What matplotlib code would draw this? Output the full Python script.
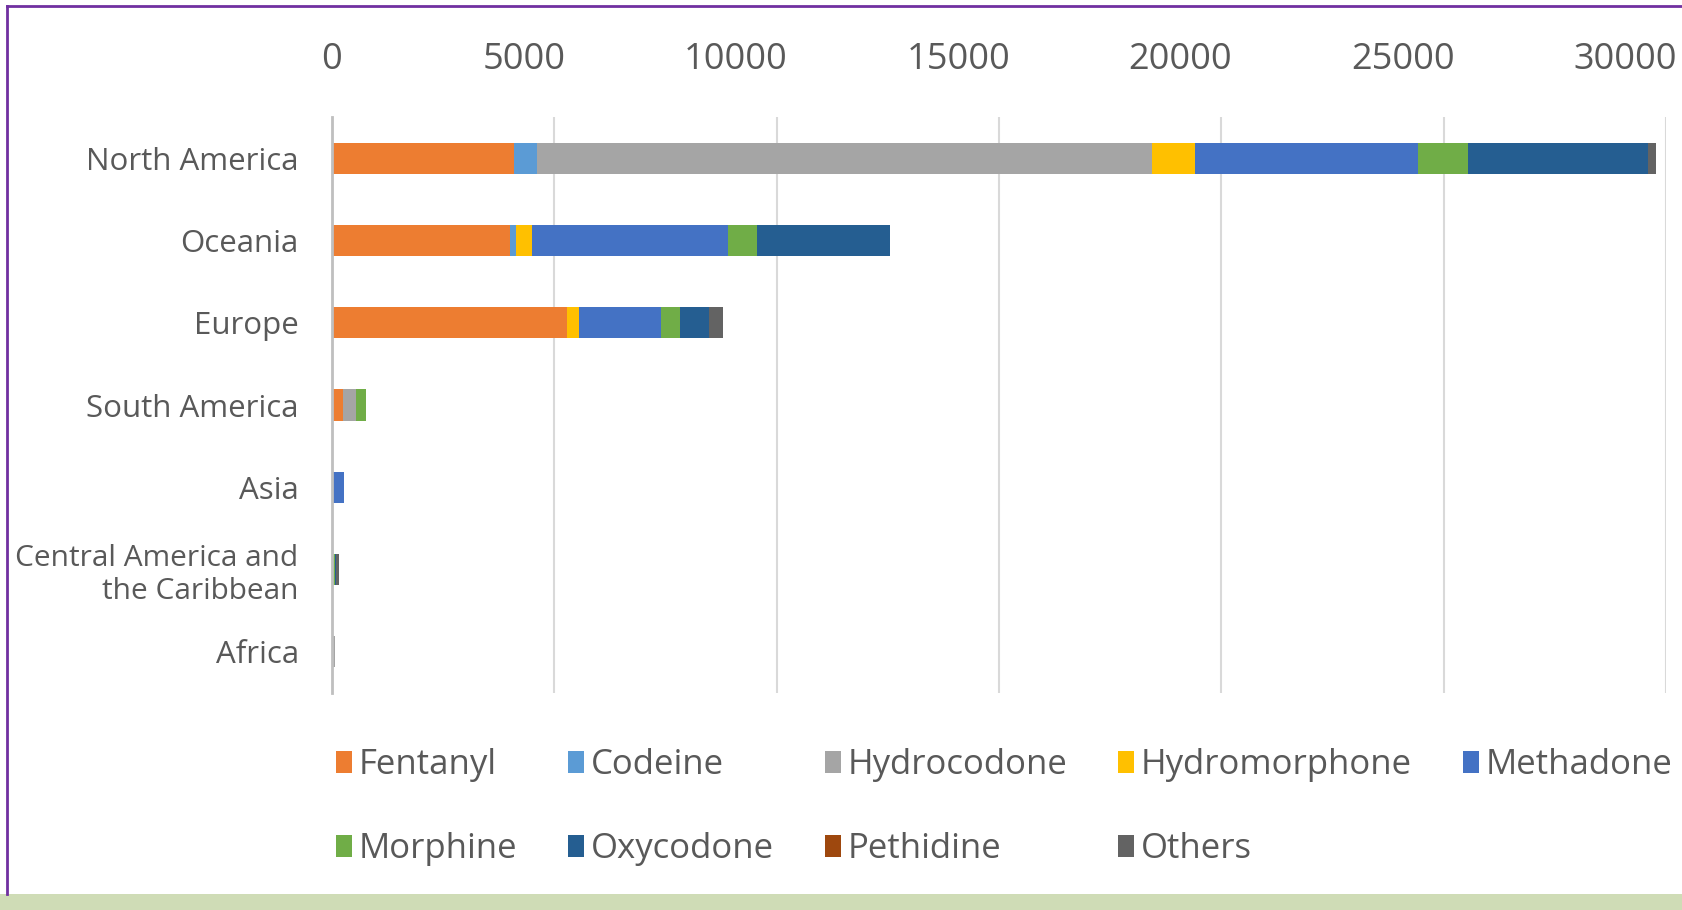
import matplotlib
matplotlib.use("Agg")
import matplotlib.pyplot as plt
from matplotlib.patches import Rectangle
from matplotlib.transforms import ScaledTranslation
import numpy as np

regions = ["North America", "Oceania", "Europe", "South America", "Asia",
           "Central America and\nthe Caribbean", "Africa"]
drugs = ["Fentanyl", "Codeine", "Hydrocodone", "Hydromorphone", "Methadone",
         "Morphine", "Oxycodone", "Pethidine", "Others"]
colors = ["#ED7D31", "#5B9BD5", "#A5A5A5", "#FFC000", "#4472C4",
          "#70AD47", "#255E91", "#9E480E", "#636363"]

fentanyl      = [4100, 4000, 5280, 240,   0,  0,  0]
codeine       = [ 520,  130,    0,   0,   0,  0,  0]
hydrocodone   = [13830,   0,    0, 300,   0,  0, 70]
hydromorphone = [ 950,  360,  270,   0,   0,  0,  0]
methadone     = [5020, 4420, 1860,   0, 280,  0,  0]
morphine      = [1120,  645,  425, 230,   0, 60,  0]
oxycodone     = [4050, 3000,  645,   0,   0, 30,  0]
pethidine     = [   0,    0,    0,   0,   0,  0,  0]
others        = [ 190,    0,  320,   0,   0, 60,  0]

series = [fentanyl, codeine, hydrocodone, hydromorphone, methadone,
          morphine, oxycodone, pethidine, others]
xticks = [0, 5000, 10000, 15000, 20000, 25000, 30000]

W, H = 1683, 910
fig = plt.figure(figsize=(W / 100, H / 100), dpi=100)
fig.patch.set_facecolor("white")
plt.rcParams['font.family'] = ['Open Sans', 'DejaVu Sans']

ax = fig.add_axes([332 / W, 1 - 693 / H, (1666 - 332) / W, (693 - 117) / H])
y = np.arange(len(regions))
left = np.zeros(len(regions))
handles = []
for name, vals, c in zip(drugs, series, colors):
    v = np.array(vals, dtype=float)
    b = ax.barh(y, v, left=left, height=0.38, color=c, label=name, linewidth=0)
    handles.append(b)
    left += v

ax.set_ylim(len(regions) - 0.5, -0.5)
ax.set_xlim(0, 30000)
ax.set_xticks(xticks)
ax.set_xticklabels([str(t) for t in xticks])
ax.xaxis.tick_top()
ax.tick_params(axis='x', length=0, pad=28, labelsize=26, labelcolor="#595959")
offset = ScaledTranslation(0.11, 0, fig.dpi_scale_trans)
for i, lab in enumerate(ax.get_xticklabels()):
    if i == 0:
        continue
    lab.set_horizontalalignment('right')
    lab.set_transform(lab.get_transform() + offset)
ax.set_yticks(y)
ax.set_yticklabels(regions, linespacing=1.2)
ax.tick_params(axis='y', length=0, pad=24, labelsize=22.5, labelcolor="#595959")
for lab in ax.get_yticklabels():
    if "\n" in lab.get_text():
        lab.set_fontsize(21.5)
for s in ["top", "right", "bottom"]:
    ax.spines[s].set_visible(False)
ax.spines["left"].set_color("#bfbfbf")
ax.spines["left"].set_linewidth(2)
ax.grid(axis='x', color="#d9d9d9", linewidth=1.5)
ax.set_axisbelow(True)

order = [0, 5, 1, 6, 2, 7, 3, 8, 4]
fig.legend([handles[i] for i in order], [drugs[i] for i in order],
           loc='upper left', bbox_to_anchor=(336 / W, 1 - 748 / H),
           ncol=5, frameon=False, fontsize=25, handlelength=0.45,
           handleheight=0.6, handletextpad=0.2, columnspacing=1.47,
           labelspacing=1.45, borderpad=0, borderaxespad=0,
           labelcolor="#595959")

# purple frame and green bottom band
fig.add_artist(Rectangle((0, 0), 1, 16 / H, transform=fig.transFigure,
                         facecolor="#cfdcb6", edgecolor="none", zorder=0))
fig.add_artist(plt.Line2D([7.5 / W, 7.5 / W], [16 / H, 1 - 5.5 / H],
                          transform=fig.transFigure, color="#7030A0", linewidth=2))
fig.add_artist(plt.Line2D([7.5 / W, 1], [1 - 5.5 / H, 1 - 5.5 / H],
                          transform=fig.transFigure, color="#7030A0", linewidth=2))

fig.savefig("out.png", dpi=100)
